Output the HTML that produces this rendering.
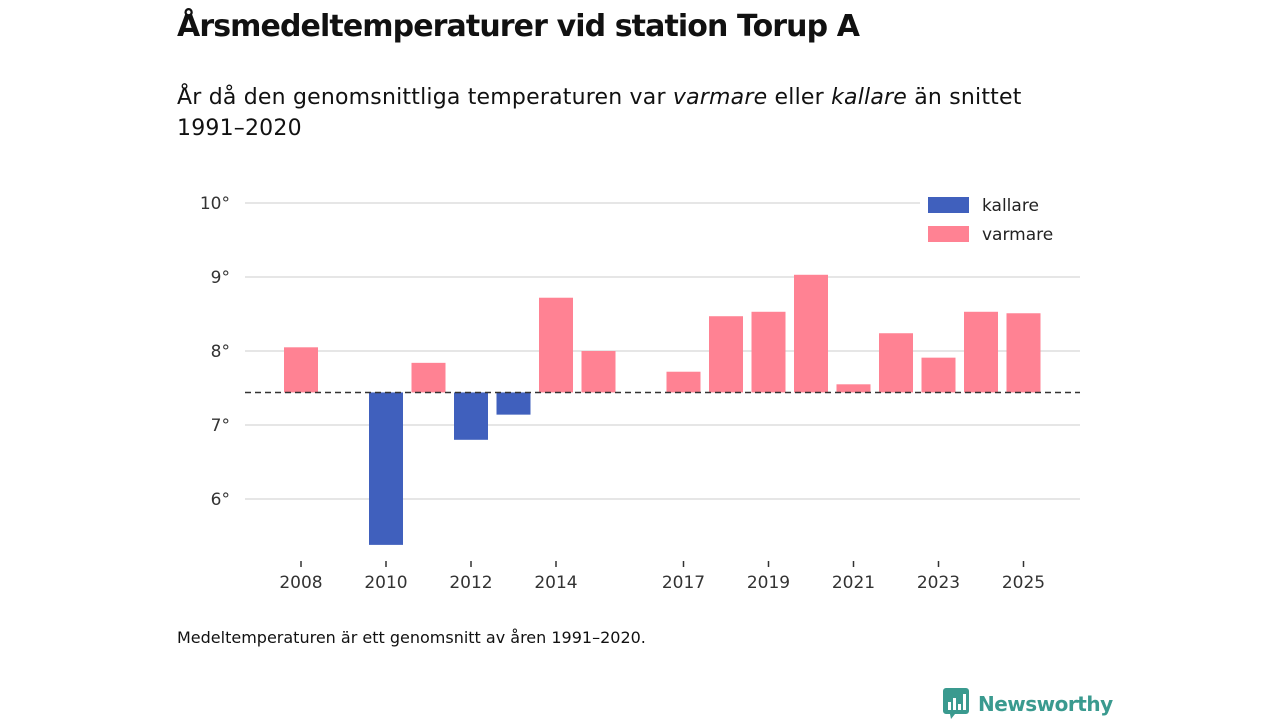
<!DOCTYPE html>
<html><head><meta charset="utf-8"><style>
body{margin:0;width:1280px;height:720px;background:#fff;font-family:"DejaVu Sans","Liberation Sans",sans-serif;overflow:hidden;position:relative}
.t{position:absolute;color:#111}
</style></head><body>
<div class="t" style="left:177px;top:9px;font-size:30px;font-weight:bold;letter-spacing:-0.9px">Årsmedeltemperaturer vid station Torup A</div>
<div class="t" style="left:177px;top:82px;font-size:22px;line-height:31px;width:900px;letter-spacing:0.2px">År då den genomsnittliga temperaturen var <i>varmare</i> eller <i>kallare</i> än snittet<br>1991–2020</div>
<svg id="c" width="1280" height="720" style="position:absolute;left:0;top:0"></svg>
<div class="t" style="left:177px;top:628px;font-size:16px">Medeltemperaturen är ett genomsnitt av åren 1991–2020.</div>
<div style="position:absolute;left:943px;top:688px;display:flex;align-items:center;color:#3a9a8f;font-size:20px;font-weight:bold;letter-spacing:-0.5px">
<svg width="26" height="32" viewBox="0 0 26 32"><path d="M3 0h20a3 3 0 0 1 3 3v20a3 3 0 0 1-3 3H12l-4 5-1-5H3a3 3 0 0 1-3-3V3a3 3 0 0 1 3-3z" fill="#3a9a8f"/><rect x="5" y="14" width="3" height="8" fill="#fff"/><rect x="10" y="10" width="3" height="12" fill="#fff"/><rect x="15" y="16" width="3" height="6" fill="#fff"/><rect x="20" y="6" width="3" height="16" fill="#fff"/></svg>
<span style="margin-left:9px">Newsworthy</span></div>
<script>
const years=[2008,2010,2011,2012,2013,2014,2015,2017,2018,2019,2020,2021,2022,2023,2024,2025];
const temps=[8.05,5.38,7.84,6.80,7.14,8.72,8.0,7.72,8.47,8.53,9.03,7.55,8.24,7.91,8.53,8.51];
const baseline=7.44;
const yTicks=[6,7,8,9,10];
const xTicks=[2008,2010,2012,2014,2017,2019,2021,2023,2025];
const NS="http://www.w3.org/2000/svg",svg=document.getElementById('c');
const y=v=>425-(v-7)*74, x=yr=>301+(yr-2008)*42.5;
function el(t,a,txt){const e=document.createElementNS(NS,t);for(const k in a)e.setAttribute(k,a[k]);if(txt!=null)e.textContent=txt;svg.appendChild(e);return e;}
yTicks.forEach(v=>{
 const g=el('line',{x1:245,x2:1080,y1:y(v),y2:y(v),stroke:'#ddd','stroke-width':1.5});
 
 
 const l=el('text',{x:230,y:y(v)+6,'text-anchor':'end','font-size':17,fill:'#333','font-family':'DejaVu Sans, sans-serif'},v+'°');
 
 
});
years.forEach((yr,i)=>{
 const v=temps[i],top=Math.min(y(v),y(baseline)),h=Math.abs(y(v)-y(baseline));
 const r=el('rect',{x:x(yr)-17,y:top,width:34,height:h,fill:v<baseline?'#4060bd':'#ff8293'});
 
 
});
const d=el('line',{x1:245,x2:1080,y1:y(baseline),y2:y(baseline),stroke:'#333','stroke-width':1.5,'stroke-dasharray':'6,4'});


xTicks.forEach(yr=>{
 const t=el('line',{x1:x(yr),x2:x(yr),y1:561,y2:567,stroke:'#333','stroke-width':1.5});
 
 
 const l=el('text',{x:x(yr),y:588,'text-anchor':'middle','font-size':17,fill:'#333','font-family':'DejaVu Sans, sans-serif'},yr);
 
 
});
const bg=el('rect',{x:920,y:190,width:160,height:60,fill:'#fff'});


[['kallare','#4060bd',197],['varmare','#ff8293',226]].forEach(([n,c,yy])=>{
 const s=el('rect',{x:928,y:yy,width:41,height:16,fill:c});
 
 
 const l=el('text',{x:982,y:yy+14,'font-size':17,fill:'#222','font-family':'DejaVu Sans, sans-serif'},n);
 
 
});
</script>
</body></html>
